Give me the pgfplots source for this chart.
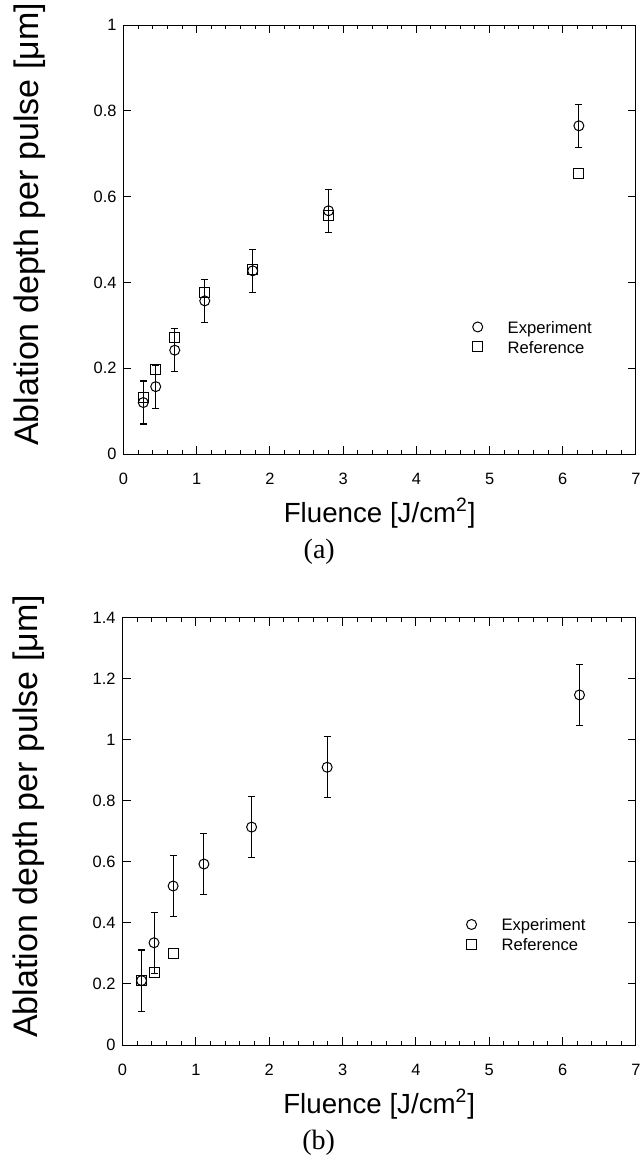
\documentclass[border=0pt]{standalone}
\usepackage{fontspec}
\setmainfont{Liberation Sans}
\newfontfamily\capfont{Liberation Serif}
\usepackage{pgfplots}
\pgfplotsset{compat=1.18}

% common look of both panels
\pgfplotsset{
  ablation/.style={
    scale only axis,
    anchor=south west,
    clip=false,
    xmin=0, xmax=7,
    xtick={0,1,2,3,4,5,6,7},
    minor x tick num=4,
    ymin=0,
    tick align=inside,
    major tick length=4pt,
    minor tick length=2pt,
    axis line style={line width=0.5pt},
    tick style={line width=0.5pt, black},
    /pgf/number format/assume math mode=true,
    tick label style={font=\fontsize{8.2}{9}\selectfont},
    xticklabel style={yshift=-6pt},
    every axis x label/.style={at={(rel axis cs:0.5,0)}, anchor=base, yshift=-34pt,
      font=\fontsize{13.85}{16}\selectfont},
    every axis y label/.style={at={(rel axis cs:0,0.5)}, xshift=-42.25pt, yshift=7.5pt,
      anchor=base, rotate=90, font=\fontsize{17}{20}\selectfont},
    xlabel={Fluence [J/cm\textsuperscript{2}]},
    ylabel={Ablation depth per pulse [μm]},
    legend cell align=left,
    legend image code/.code={\draw[#1] plot coordinates {(0pt,1pt)};},
    legend style={draw=none, fill=none, inner sep=0pt, outer sep=0pt,
      anchor=north west, row sep=2.3pt,
      font=\fontsize{8.3}{10}\selectfont,
      nodes={inner sep=0pt},
      /tikz/every odd column/.append style={column sep=12.5pt}},
  },
  expt/.style={only marks, mark=o, mark size=2.5pt, black, line width=0.5pt,
    error bars/.cd, y dir=both, y explicit, error mark=|,
    error bar style={line width=0.5pt, black},
    error mark options={mark size=1.75pt, line width=0.6pt, black}},
  refr/.style={only marks, mark=square, mark size=2.5pt, black, line width=0.5pt},
}

\begin{document}
\begin{tikzpicture}
\path[use as bounding box] (0,0) rectangle (319.5pt,-580.5pt);

% (a)
\begin{axis}[ablation,
  at={(61.75pt,-227pt)},
  width=256.25pt, height=214.5pt,
  ymax=1,
  ytick={0,0.2,0.4,0.6,0.8,1},
  legend style={at={(axis cs:4.77,0.309)}},
]
\addplot+[expt] coordinates {
  (0.27,0.120) +- (0,0.05)
  (0.44,0.157) +- (0,0.05)
  (0.70,0.242) +- (0,0.05)
  (1.11,0.357) +- (0,0.05)
  (1.765,0.427) +- (0,0.05)
  (2.80,0.567) +- (0,0.05)
  (6.22,0.765) +- (0,0.05)
};
\addlegendentry{Experiment}
\addplot+[refr] coordinates {
  (0.27,0.132) (0.44,0.198) (0.70,0.272) (1.11,0.377)
  (1.765,0.430) (2.80,0.557) (6.22,0.654)
};
\addlegendentry{Reference}
\node[font=\capfont\fontsize{14}{16}\selectfont, anchor=base]
  at (rel axis cs:0.382,0) [yshift=-52pt] {(a)};
\end{axis}

% (b)
\begin{axis}[ablation,
  at={(61.25pt,-522.5pt)},
  width=256.75pt, height=213.65pt,
  ymax=1.4,
  ytick={0,0.2,0.4,0.6,0.8,1,1.2,1.4},
  legend style={at={(axis cs:4.69,0.413)}},
]
\addplot+[expt] coordinates {
  (0.26,0.211) +- (0,0.1)
  (0.43,0.335) +- (0,0.1)
  (0.69,0.521) +- (0,0.1)
  (1.11,0.593) +- (0,0.1)
  (1.76,0.714) +- (0,0.1)
  (2.79,0.910) +- (0,0.1)
  (6.23,1.147) +- (0,0.1)
};
\addlegendentry{Experiment}
\addplot+[refr] coordinates {
  (0.26,0.211) (0.43,0.239) (0.69,0.299)
};
\addlegendentry{Reference}
\node[font=\capfont\fontsize{14}{16}\selectfont, anchor=base]
  at (rel axis cs:0.382,0) [yshift=-52pt] {(b)};
\end{axis}
\end{tikzpicture}
\end{document}
